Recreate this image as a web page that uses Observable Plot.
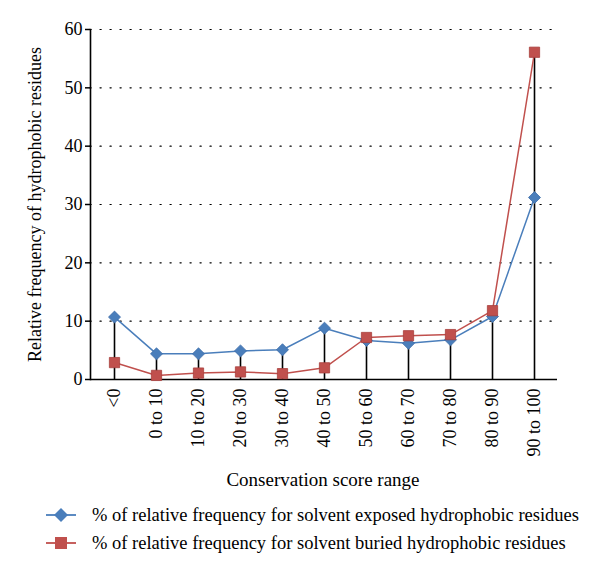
<!DOCTYPE html>
<html>
<head>
<meta charset="utf-8">
<script src="https://cdn.jsdelivr.net/npm/d3@7"></script>
<script src="https://cdn.jsdelivr.net/npm/@observablehq/plot@0.6"></script>
<style>
  body { margin: 0; background: #fff; font-family: "Liberation Serif", "DejaVu Serif", serif; }
  #wrap { width: 600px; }
  #chart svg, #chart svg text { font-family: "Liberation Serif", "DejaVu Serif", serif !important; }
  .xtitle { text-align: center; font-size: 19px; padding-left: 46px; margin-top: 8px; height: 24px; line-height: 24px; }
  .leg { display: flex; align-items: center; height: 28px; font-size: 18.5px; white-space: nowrap; }
  .leg svg { margin-left: 46px; margin-right: 16px; flex: none; }
</style>
</head>
<body>
<div id="wrap">
  <div id="chart"></div>
  <div class="xtitle">Conservation score range</div>
  <div style="margin-top:9px">
    <div class="leg" id="leg1"></div>
    <div class="leg" id="leg2"></div>
  </div>
</div>
<script>
const categories = ["<0","0 to 10","10 to 20","20 to 30","30 to 40","40 to 50","50 to 60","60 to 70","70 to 80","80 to 90","90 to 100"];
const exposed = [10.7, 4.4, 4.4, 4.9, 5.1, 8.8, 6.7, 6.2, 6.8, 10.8, 31.2];
const buried  = [2.9, 0.7, 1.1, 1.3, 1.0, 2.0, 7.2, 7.5, 7.7, 11.8, 56.1];
const yTicks = [0, 10, 20, 30, 40, 50, 60];
const yLabel = "Relative frequency of hydrophobic residues";
const seriesNames = [
  "% of relative frequency for solvent exposed hydrophobic residues",
  "% of relative frequency for solvent buried hydrophobic residues"
];
const blue = "#4a7ebb", red = "#c0504d";
const serif = "Liberation Serif";

const rows = categories.map((c, i) => ({cat: c, exposed: exposed[i], buried: buried[i], top: Math.max(exposed[i], buried[i])}));

const diamond = {
  draw(ctx, size) {
    const h = Math.sqrt(size / 2);
    ctx.moveTo(0, -h); ctx.lineTo(h, 0); ctx.lineTo(0, h); ctx.lineTo(-h, 0); ctx.closePath();
  }
};

const chart = Plot.plot({
  width: 600,
  height: 460,
  marginLeft: 90,
  marginRight: 43,
  marginTop: 29,
  marginBottom: 81,
  style: {fontFamily: serif, fontSize: "17px", color: "#000", background: "#fff", overflow: "visible"},
  x: {type: "point", domain: categories, padding: 0.5},
  y: {domain: [0, 60]},
  marks: [
    Plot.ruleY(yTicks.filter(d => d > 0), {stroke: "#000", strokeWidth: 1.2, strokeDasharray: "1.2,8.8", strokeLinecap: "round"}),
    Plot.axisY({ticks: yTicks, tickSize: 5, tickPadding: 3, fontSize: 18, fontFamily: serif, label: null, strokeWidth: 1.5}),
    Plot.text([yLabel], {frameAnchor: "left", textAnchor: "middle", rotate: -90, dx: -55, fontSize: 18, fontFamily: serif}),
    Plot.axisX({tickRotate: -90, tickSize: 0, tickPadding: 9, fontSize: 18, fontFamily: serif, label: null}),
    Plot.ruleX(rows, {x: "cat", y1: 0, y2: "top", stroke: "#000", strokeWidth: 1.6}),
    Plot.frame({anchor: "left", stroke: "#000", strokeWidth: 1.6}),
    Plot.ruleY([0], {stroke: "#000", strokeWidth: 1.6}),
    Plot.line(rows, {x: "cat", y: "exposed", stroke: blue, strokeWidth: 1.5}),
    Plot.dot(rows, {x: "cat", y: "exposed", symbol: diamond, r: 4.8, fill: blue, stroke: "#3c6ca8", strokeWidth: 0.8}),
    Plot.line(rows, {x: "cat", y: "buried", stroke: red, strokeWidth: 1.5}),
    Plot.dot(rows, {x: "cat", y: "buried", symbol: "square", r: 5.8, fill: red, stroke: "#a8403d", strokeWidth: 0.8})
  ]
});
document.getElementById("chart").appendChild(chart);

function legendItem(id, color, sym, name) {
  const el = document.getElementById(id);
  const marker = sym === "diamond"
    ? `<path d="M15,7 L22,14 L15,21 L8,14 Z" fill="${color}"/>`
    : `<rect x="9" y="8" width="12" height="12" fill="${color}"/>`;
  el.innerHTML = `<svg width="30" height="28"><line x1="0" x2="30" y1="14" y2="14" stroke="${color}" stroke-width="1.8"/>${marker}</svg><span>${name}</span>`;
}
legendItem("leg1", blue, "diamond", seriesNames[0]);
legendItem("leg2", red, "square", seriesNames[1]);
</script>
</body>
</html>
